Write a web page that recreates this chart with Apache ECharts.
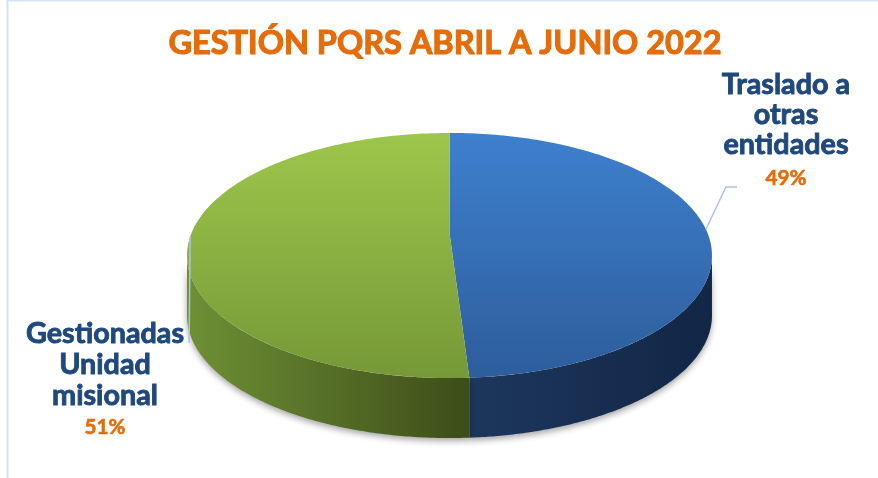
<!DOCTYPE html>
<html><head><meta charset="utf-8">
<script src="https://cdn.jsdelivr.net/npm/echarts@6/dist/echarts.min.js"></script>
<style>html,body{margin:0;padding:0;background:#fff}#c{width:878px;height:478px}</style>
</head><body><div id="c"></div>
<script>
// ---- data ----
const titleText = 'GESTIÓN PQRS ABRIL A JUNIO 2022';
const categories = ['Traslado a otras entidades', 'Gestionadas Unidad misional'];
const labelLines = [['Traslado a', 'otras', 'entidades'], ['Gestionadas', 'Unidad', 'misional']];
const values = [49, 51];

// ---- styling / layout ----
const FONT = 'Lato';
const W = 'bold';
const ORANGE = '#e46c0a', NAVY = '#1f497d', LEADER = '#a9c4ea';
const topColors = [['#3e80ce', '#2d5d9b'], ['#9ec64b', '#769838']];
const wallColors = [['#1d375c', '#122646'], ['#6f9035', '#3c4d19']];
const G = {cx: 449.5, cy: 233, a: 258, b: 118.4, k: 0.1837, depth: 60};
const labelLayout = [
  {x: 786, base: [95, 125, 155, 186], elbow: [[726, 187], [737, 187]]},
  {x: 105, base: [344, 375, 406, 435], elbow: null, endY: 343}
];

function textWidth(t, size, weight) {
  const ctx = document.createElement('canvas').getContext('2d');
  ctx.font = weight + ' ' + size + 'px ' + FONT;
  return ctx.measureText(t).width;
}
function fitSize(t, target, weight) { return 100 * target / textWidth(t, 100, weight); }
const titleSize = fitSize(titleText, 553, W);
const labelSize = (fitSize('Gestionadas', 155, W) + fitSize('Traslado a', 131, W)) / 2;
const pctSize = fitSize('49%', 41, W);

const total = values.reduce((a, b) => a + b, 0);
function proj(theta, dy) {
  const u = Math.sin(theta), v = -Math.cos(theta);
  const s = 1 / (1 - G.k * v);
  return [G.cx + G.a * u * s, G.cy + G.b * v * s + (dy || 0)];
}
const silR = Math.PI / 2 + Math.asin(G.k), silL = 3 * Math.PI / 2 - Math.asin(G.k);

function txt(t, x, y, color, size, z2, sw) {
  return {type: 'text', z2: z2, style: {text: t, x: x, y: y, fill: color, stroke: color, lineWidth: sw,
    font: W + ' ' + size.toFixed(2) + 'px ' + FONT, align: 'center', verticalAlign: 'middle'}};
}

function renderItem(params, api) {
  const i = params.dataIndex;
  const v = api.value(0);
  let before = 0;
  for (let j = 0; j < i; j++) before += values[j];
  const t0 = before / total * 2 * Math.PI, t1 = (before + v) / total * 2 * Math.PI;
  const children = [];
  const n = 160;
  // top face
  const pts = [[G.cx, G.cy]];
  for (let s = 0; s <= n; s++) pts.push(proj(t0 + (t1 - t0) * s / n));
  children.push({
    type: 'polygon', z2: 10, shape: {points: pts},
    style: {fill: {type: 'linear', x: 0, y: 133, x2: 0, y2: 378, global: true,
      colorStops: [{offset: 0, color: topColors[i][0]}, {offset: 1, color: topColors[i][1]}]}}
  });
  // wall
  const w0 = Math.max(t0, silR), w1 = Math.min(t1, silL);
  if (w1 > w0) {
    const top = [], bot = [];
    for (let s = 0; s <= n; s++) {
      const th = w0 + (w1 - w0) * s / n;
      top.push(proj(th));
      bot.push(proj(th, G.depth));
    }
    children.push({
      type: 'polygon', z2: 5, shape: {points: top.concat(bot.reverse())},
      style: {fill: {type: 'linear', x: 0, y: 0, x2: 1, y2: 0,
        colorStops: [{offset: 0, color: wallColors[i][0]}, {offset: 1, color: wallColors[i][1]}]},
        shadowColor: 'rgba(0,0,0,0.35)', shadowBlur: 6, shadowOffsetY: 3}
    });
  }
  // label
  const L = labelLayout[i];
  const lines = labelLines[i];
  lines.forEach((t, li) => {
    children.push(txt(t, L.x, L.base[li] - labelSize * 0.36, NAVY, labelSize, 20, 0.9));
  });
  const pct = Math.round(v / total * 100) + '%';
  children.push(txt(pct, L.x, L.base[lines.length] - pctSize * 0.36, ORANGE, pctSize, 20, 0.6));
  // leader
  const anchor = proj((t0 + t1) / 2);
  const lp = L.elbow ? [anchor].concat(L.elbow) : [anchor, [anchor[0] - 1, L.endY]];
  children.push({type: 'polyline', z2: 15, shape: {points: lp}, style: {stroke: LEADER, lineWidth: 1.5, fill: null}});
  return {type: 'group', children};
}

const chart = echarts.init(document.getElementById('c'));
chart.setOption({
  backgroundColor: '#ffffff',
  animation: false,
  graphic: [
    {type: 'rect', shape: {x: 7.5, y: 0.5, width: 900, height: 600}, style: {fill: null, stroke: '#d6e2f2', lineWidth: 2}, z: -1},
    txt(titleText, 445, 55 - titleSize * 0.36, ORANGE, titleSize, 1, 1.1)
  ],
  series: [{
    type: 'custom', coordinateSystem: 'none',
    data: values.map((v, i) => ({value: v, name: categories[i]})),
    renderItem: renderItem
  }]
});
</script>
</body></html>
